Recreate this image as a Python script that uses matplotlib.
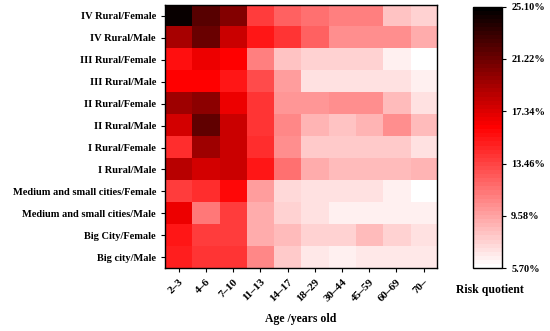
import numpy as np
import matplotlib
matplotlib.use("Agg")
import matplotlib.pyplot as plt
from matplotlib.colors import LinearSegmentedColormap

# Risk quotient (%) by group and age band
groups = ['IV Rural/Female', 'IV Rural/Male', 'III Rural/Female', 'III Rural/Male',
          'II Rural/Female', 'II Rural/Male', 'I Rural/Female', 'I Rural/Male',
          'Medium and small cities/Female', 'Medium and small cities/Male',
          'Big City/Female', 'Big city/Male']
ages = ['2–3', '4–6', '7–10', '11–13', '14–17', '18–29', '30–44', '45–59', '60–69', '70–']

iv_rural_f = [24.5, 22.0, 20.3, 13.8, 12.2, 11.6, 11.0, 11.0, 8.3, 7.6]
iv_rural_m = [19.3, 21.4, 17.9, 15.1, 13.9, 12.2, 10.3, 10.3, 10.4, 9.2]
iii_rural_f = [15.6, 16.8, 16.2, 11.1, 8.3, 7.6, 7.8, 7.8, 6.5, 5.7]
iii_rural_m = [16.3, 16.3, 15.1, 13.0, 9.9, 7.1, 7.1, 7.1, 7.1, 6.6]
ii_rural_f = [19.5, 20.1, 16.8, 13.9, 10.1, 10.1, 10.3, 10.3, 8.5, 7.2]
ii_rural_m = [17.7, 21.6, 17.9, 13.9, 10.6, 8.8, 8.3, 8.8, 10.3, 8.5]
i_rural_f = [14.2, 19.5, 17.9, 14.3, 10.3, 7.9, 7.9, 7.9, 7.9, 7.2]
i_rural_m = [18.7, 17.7, 18.0, 15.1, 11.6, 9.2, 8.7, 8.7, 8.7, 8.8]
medium_f = [13.6, 14.3, 15.9, 9.9, 7.5, 7.0, 7.2, 7.2, 6.5, 5.7]
medium_m = [16.8, 11.4, 13.8, 9.2, 7.6, 7.0, 6.6, 6.6, 6.6, 6.6]
big_f = [15.1, 13.8, 13.8, 9.2, 8.5, 7.6, 7.6, 8.7, 7.6, 7.1]
big_m = [14.9, 14.1, 14.1, 10.6, 8.1, 6.9, 6.6, 6.9, 6.9, 6.9]

cbar_ticks = [5.70, 9.58, 13.46, 17.34, 21.22, 25.10]

data = np.array([iv_rural_f, iv_rural_m, iii_rural_f, iii_rural_m, ii_rural_f, ii_rural_m,
                 i_rural_f, i_rural_m, medium_f, medium_m, big_f, big_m])

plt.rcParams['font.family'] = 'Liberation Serif'
plt.rcParams['font.weight'] = 'bold'

cmap = LinearSegmentedColormap.from_list(
    'wrb', [(0.0, '#ffffff'), (0.54, '#ff0000'), (1.0, '#000000')], N=64)

fig = plt.figure(figsize=(5.5, 3.31), dpi=100)
ax = fig.add_axes([0.300, 0.190, 0.495, 0.795])
im = ax.imshow(data, cmap=cmap, vmin=5.70, vmax=25.10, aspect='auto',
               interpolation='nearest')

ax.set_xticks(range(len(ages)))
ax.set_xticklabels(ages, rotation=45, ha='right', rotation_mode='anchor', fontsize=8)
ax.set_yticks(range(len(groups)))
ax.set_yticklabels(groups, fontsize=7.5)
ax.tick_params(length=3, width=0.8)
ax.set_xlabel('Age /years old', fontsize=8.5, fontweight='bold', labelpad=7)
for s in ax.spines.values():
    s.set_linewidth(1.0)

cax = fig.add_axes([0.860, 0.190, 0.053, 0.790])
cb = fig.colorbar(im, cax=cax, ticks=cbar_ticks)
cb.ax.set_yticklabels(['%.2f%%' % t for t in cbar_ticks], fontsize=7.5)
cb.ax.tick_params(length=3, width=0.8)
cb.outline.set_linewidth(1.0)
fig.text(0.890, 0.125, 'Risk quotient', ha='center', va='center',
         fontsize=8.5, fontweight='bold')

fig.savefig('out.png', dpi=100)
